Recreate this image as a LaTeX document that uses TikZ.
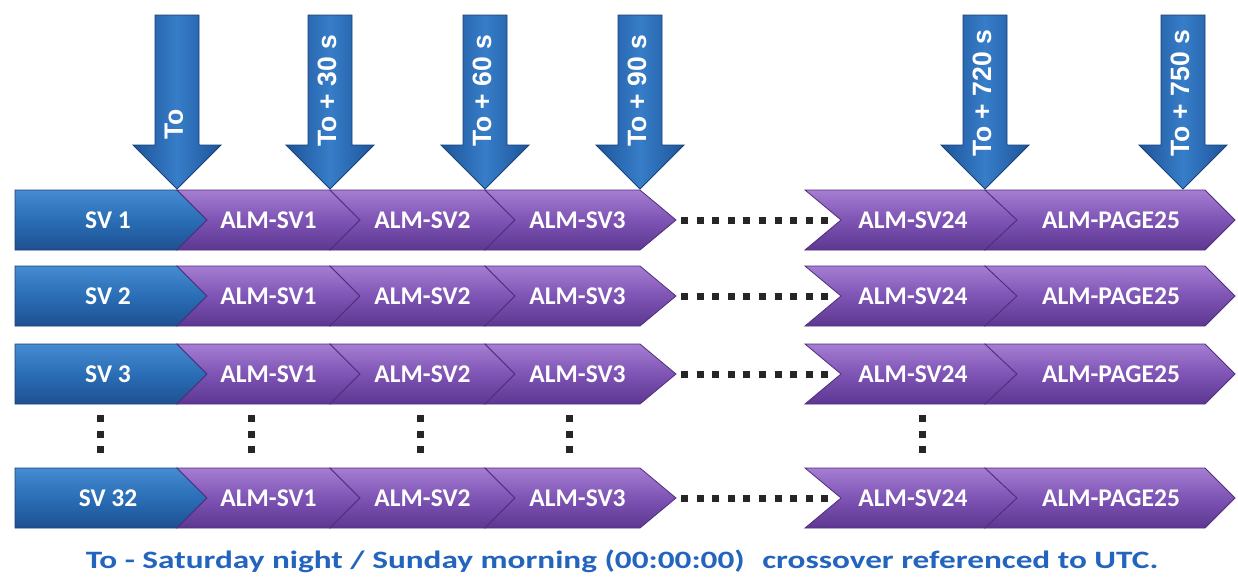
\documentclass[tikz,border=0pt]{standalone}
\usepackage{fontspec}
\setmainfont{Carlito}
\newfontfamily\arrfont{Liberation Sans}
\definecolor{blueT}{RGB}{70,140,210}
\definecolor{blueM}{RGB}{42,110,182}
\definecolor{blueB}{RGB}{30,80,145}
\definecolor{blueD}{RGB}{25,65,120}
\definecolor{purT}{RGB}{165,125,210}
\definecolor{purM}{RGB}{126,84,180}
\definecolor{purB}{RGB}{92,55,145}
\definecolor{purD}{RGB}{80,45,125}
\definecolor{arrL}{RGB}{30,85,155}
\definecolor{arrM}{RGB}{55,125,200}
\definecolor{capblue}{RGB}{35,100,190}
\begin{document}
\begin{tikzpicture}[x=1pt,y=-1pt,
  svbox/.style={top color=blueT, bottom color=blueB, middle color=blueM, draw=blueD, line width=0.8pt},
  chev/.style={top color=purT, bottom color=purB, middle color=purM, draw=purD, line width=0.8pt},
  lbl/.style={text=white, font=\fontsize{25.5}{30}\selectfont\bfseries, inner sep=0pt},
  arrtxt/.style={text=white, font=\arrfont\fontsize{26.5}{30}\selectfont\bfseries, rotate=90, anchor=west, inner sep=0pt},
  timearrow/.style={left color=arrL, right color=arrL, middle color=arrM, draw=blueD, line width=0.8pt},
  dots/.style={line width=7pt, dash pattern=on 7pt off 8.6pt, color=black!85},
]
\useasboundingbox (0,0) rectangle (1238,584);
\fill[white] (0,0) rectangle (1238,584);

% rows
\foreach \r/\yc/\sv in {1/220/SV 1, 2/296/SV 2, 3/374/SV 3, 4/498/SV 32}{
  \path[svbox] (15,\yc-30) -- (177,\yc-30) -- (207,\yc) -- (177,\yc+30) -- (15,\yc+30) -- cycle;
  \node[lbl] (sv\r) at (108,\yc) {\sv};
  \foreach \a/\b/\dl/\dr/\t [count=\i] in {177/330/30/30/ALM-SV1, 330/485/30/30/ALM-SV2, 485/640/30/36/ALM-SV3, 805/985/36/32/ALM-SV24, 985/1205/32/30/ALM-PAGE25}{
    \path[chev] (\a,\yc-30) -- (\b,\yc-30) -- (\b+\dr,\yc) -- (\b,\yc+30) -- (\a,\yc+30) -- (\a+\dl,\yc) -- cycle;
    \node[lbl] (c\r-\i) at ({(\a+\b)/2+\dl/2},\yc) {\t};
  }
  \coordinate (e\r) at (681,\yc);
  \coordinate (s\r) at (836,\yc);
  \draw[dots] (e\r) -- (s\r);
}

% vertical ellipsis dots
\foreach \x [count=\k] in {100,251,420,569,922}{
  \coordinate (vt\k) at (\x,415);
  \coordinate (vb\k) at (\x,453);
  \draw[dots] (vt\k) -- (vb\k);
}

% time arrows
\foreach \x/\t/\ys [count=\j] in {177/To/140, 330/To + 30 s/147, 485/To + 60 s/147, 640/To + 90 s/147, 985/To + 720 s/157, 1183/To + 750 s/157}{
  \path[timearrow] (\x-22,15) -- (\x+22,15) -- (\x+22,145) -- (\x+44,145) -- (\x,189) -- (\x-44,145) -- (\x-22,145) -- cycle;
  \node[arrtxt] (a\j) at (\x-3,\ys) {\t};
}

\node[font=\fontsize{25}{28}\selectfont\bfseries, text=capblue, xscale=1.33] (cap) at (622,561)
  {To - Saturday night / Sunday morning (00:00:00)\hspace{0.3em} crossover referenced to UTC.};
\end{tikzpicture}
\end{document}
